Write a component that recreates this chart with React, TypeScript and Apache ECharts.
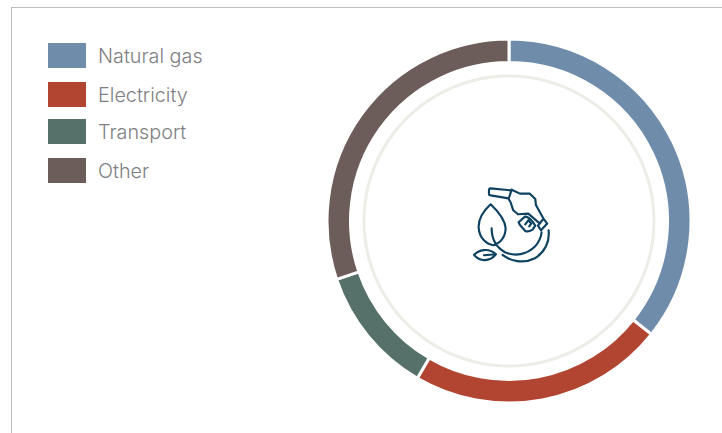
import React, { useEffect, useRef } from "react";
import * as echarts from "echarts";

const categories = ["Natural gas", "Electricity", "Transport", "Other"];
const values = [35.7, 22.7, 11.4, 30.2];
const colors = ["#6f8cab", "#b24531", "#56716a", "#6c5d5a"];
const legendTops = [43, 82, 119, 158];

const iconPaths = [
  "M152 46 L92 40 Q87 40 87 46 L87 56 Q87 61 92 61 L146 70",
  "M155 44 L146 72 L152 82 L160 106 L174 118 L205 116 L240 146",
  "M155 44 L180 56 L210 56 L226 72 L228 90 L250 130 L262 146 L243 166 L234 152 L250 132",
  "M176 142 L195 125 Q205 125 218 140 L226 152 L218 164 Q205 172 196 168 L180 150 Z",
  "M196 148 L205 136 L214 146 L208 154",
  "M92 88 C70 108 55 130 56 158 C58 190 80 208 100 211 C122 205 137 185 137 160 C135 130 110 105 92 88 Z",
  "M95 160 C95 190 105 215 135 232 C165 245 200 240 225 215 C238 200 244 185 245 172",
  "M128 240 C150 258 190 268 225 250 C255 232 270 200 266 166",
  "M42 240 C55 226 85 216 108 238 C90 260 60 262 42 240 Z",
  "M72 241 L108 238",
];
const iconPath = iconPaths.join(" ");

export default function App() {
  const ref = useRef<HTMLDivElement>(null);
  useEffect(() => {
    echarts.graphic.registerShape("pumpLogo", echarts.graphic.extendPath(iconPath, {}) as any);
    const chart = echarts.init(ref.current!, undefined, { renderer: "svg" });
    chart.setOption({
      animation: false,
      backgroundColor: "#ffffff",
      legend: categories.map((name, i) => ({
        data: [name],
        left: 48,
        top: legendTops[i],
        orient: "vertical",
        icon: "rect",
        itemWidth: 38,
        itemHeight: 25,
        itemGap: 0,
        padding: 0,
        selectedMode: false,
        itemStyle: { borderWidth: 0 },
        textStyle: {
          color: "#808083",
          fontFamily: "Inter",
          fontWeight: 300,
          fontSize: 19.8,
          padding: [0, 0, 5, 7],
        },
      })),
      series: [
        {
          type: "pie",
          silent: true,
          center: [509, 221],
          radius: [143.5, 146.5],
          startAngle: 90,
          label: { show: false },
          labelLine: { show: false },
          legendHoverLink: false,
          data: [{ value: 1, name: "ring", itemStyle: { color: "#edece7" } }],
        },
        {
          type: "pie",
          silent: true,
          center: [509, 221],
          radius: [158.5, 182],
          startAngle: 90,
          clockwise: true,
          label: { show: false },
          labelLine: { show: false },
          itemStyle: { borderColor: "#ffffff", borderWidth: 3 },
          data: categories.map((name, i) => ({
            name,
            value: values[i],
            itemStyle: { color: colors[i] },
          })),
        },
      ],
      graphic: [
        { type: "line", silent: true, shape: { x1: 11.5, y1: 7, x2: 11.5, y2: 433 }, style: { stroke: "#bfbdb8", lineWidth: 1 } },
        { type: "line", silent: true, shape: { x1: 11, y1: 7.5, x2: 722, y2: 7.5 }, style: { stroke: "#bfbdb8", lineWidth: 1 } },
        {
          type: "pumpLogo",
          silent: true,
          x: 460,
          y: 175,
          scaleX: 1 / 3,
          scaleY: 1 / 3,
          style: { fill: "none", stroke: "#0f4261", lineWidth: 6.5, lineJoin: "round", lineCap: "round" },
        },
      ],
    });
    return () => chart.dispose();
  }, []);
  return <div ref={ref} style={{ position: "fixed", left: 0, top: 0, width: 722, height: 433 }} />;
}
